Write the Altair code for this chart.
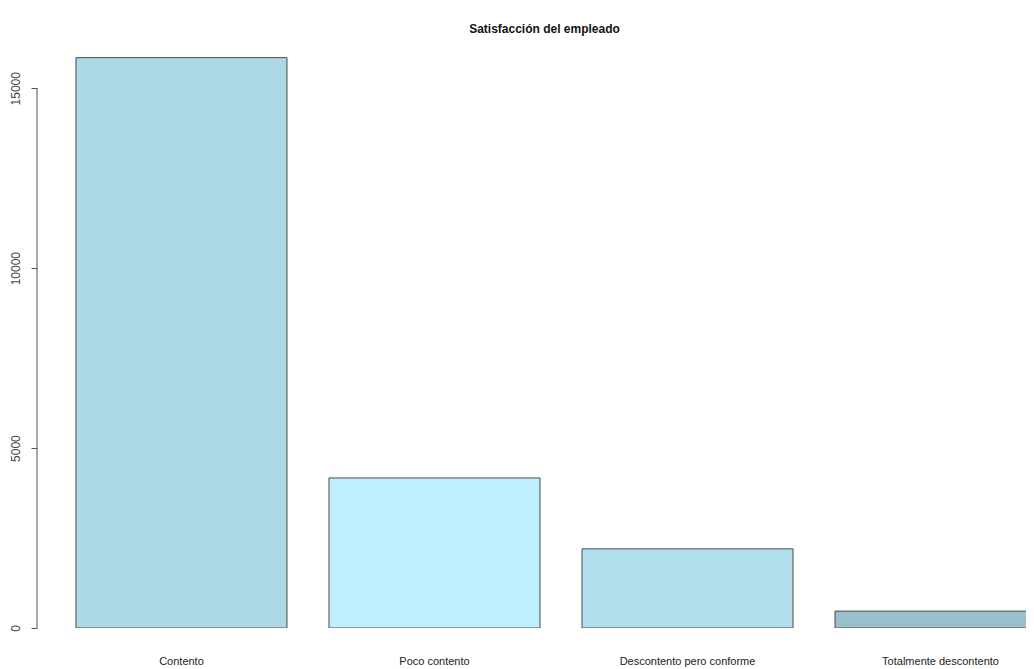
import altair as alt
import pandas as pd

# Data
categories = ["Contento", "Poco contento", "Descontento pero conforme", "Totalmente descontento"]
counts = [15850, 4170, 2200, 470]
bar_colors = ["#ADD8E6", "#BFEFFF", "#B2DFEE", "#9AC0CD"]
y_ticks = [0, 5000, 10000, 15000]

df = pd.DataFrame({"categoria": categories, "n": counts, "color": bar_colors})
axis_df = pd.DataFrame({"y0": [min(y_ticks)], "y1": [max(y_ticks)]})

ymax = 16480
FONT = "Liberation Sans"

yscale = alt.Scale(domain=[0, ymax], nice=False, zero=True)

bars = alt.Chart(df).mark_bar(stroke="#4a4a4a", strokeWidth=1, clip=True).encode(
    x=alt.X(
        "categoria:N", sort=categories, title=None,
        scale=alt.Scale(range=[0, 1048], paddingInner=0.166, paddingOuter=0.154),
        axis=alt.Axis(labelAngle=0, domain=False, ticks=False, labelPadding=27,
                      labelFontSize=11, labelColor="#222", labelFont=FONT),
    ),
    y=alt.Y(
        "n:Q", title=None, scale=yscale,
        axis=alt.Axis(values=y_ticks, domain=False, grid=False, tickSize=6,
                      tickColor="#555", labelAngle=270, labelAlign="center",
                      labelBaseline="bottom", labelPadding=9, labelFontSize=12,
                      labelColor="#444", labelFont=FONT, format="d"),
    ),
    color=alt.Color("color:N", scale=None, legend=None),
)

axis_line = alt.Chart(axis_df).mark_rule(color="#555", strokeWidth=1).encode(
    x=alt.value(0),
    y=alt.Y("y0:Q", scale=yscale),
    y2="y1:Q",
)

chart = alt.layer(bars, axis_line).properties(
    width=989,
    height=593,
    background="white",
    title=alt.TitleParams("Satisfacción del empleado", fontSize=12, fontWeight="bold",
                          font=FONT, anchor="middle", offset=-1, dx=13, color="#111"),
    autosize=alt.AutoSizeParams(type="none"),
    padding={"left": 29, "top": 27, "right": 0, "bottom": 40},
).configure_view(strokeWidth=0, stroke="transparent")

chart.save("out.html", embed_options={"renderer": "svg", "actions": False})
